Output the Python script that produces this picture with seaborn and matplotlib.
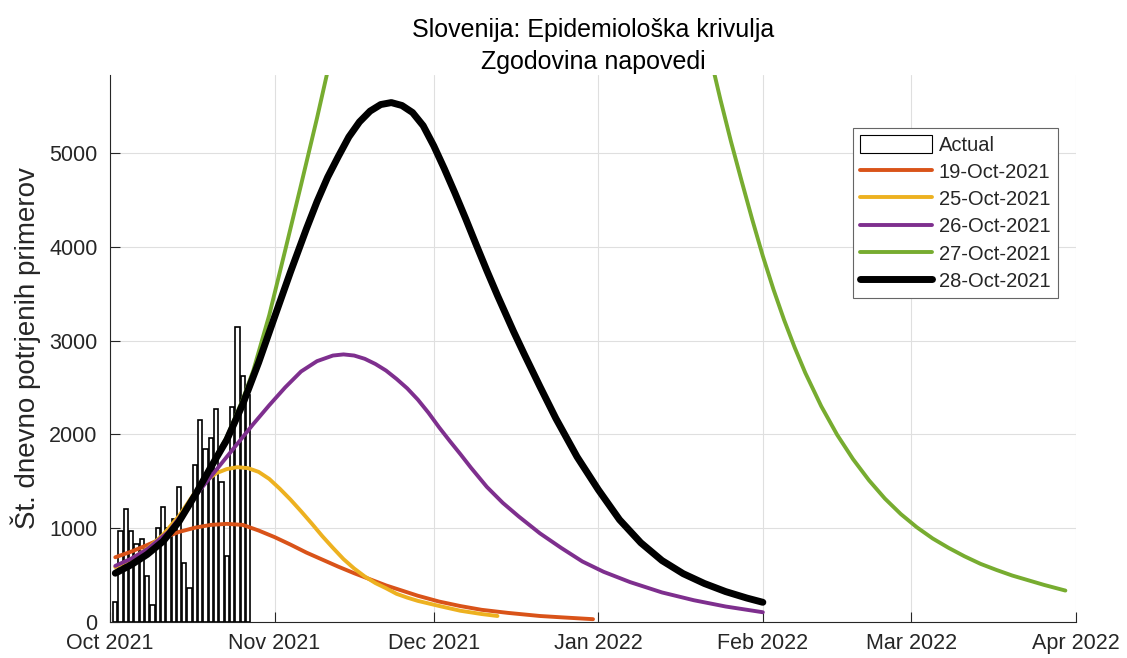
import pandas as pd
import matplotlib
matplotlib.use("Agg")
import matplotlib.pyplot as plt
import matplotlib.dates as mdates
from matplotlib.patches import Patch
from matplotlib.lines import Line2D
import seaborn as sns

start = pd.Timestamp("2021-10-01")

# daily confirmed cases (bars), 2 Oct - 27 Oct 2021
actual_start = "2021-10-02"
actual_vals = [217, 974, 1201, 967, 835, 882, 490, 181, 999, 1225, 1000, 1100, 1443,
               632, 366, 1670, 2154, 1844, 1965, 2267, 1496, 704, 2289, 3141, 2622, 2420]

# forecast curves: day = days after 1 Oct 2021
f19_day = [1, 4, 7, 10, 13, 16, 19, 22, 25, 28, 31, 34, 37, 40, 43, 46, 49, 52, 55, 58,
           62, 66, 70, 75, 81, 85, 91]
f19_vals = [690, 750, 820, 895, 960, 1005, 1035, 1046, 1035, 975, 905, 825, 740, 665,
            590, 520, 455, 390, 335, 280, 218, 170, 130, 97, 64, 50, 30]

f25_day = [1, 4, 7, 10, 13, 16, 18, 20, 22, 24, 26, 28, 30, 32, 34, 36, 38, 40, 42, 44,
           46, 48, 50, 52, 54, 56, 58, 62, 66, 70, 73]
f25_vals = [585, 670, 780, 930, 1130, 1380, 1500, 1585, 1630, 1650, 1640, 1600, 1525,
            1420, 1305, 1180, 1050, 915, 790, 670, 570, 485, 415, 360, 300, 260, 225,
            171, 120, 85, 64]

f26_day = [1, 4, 7, 11, 14, 17, 20, 24, 27, 30, 33, 36, 39, 42, 44, 46, 48, 50, 52, 54,
           56, 58, 60, 62, 64, 66, 68, 71, 74, 77, 81, 85, 89, 93, 98, 104, 110, 116, 123]
f26_vals = [598, 675, 775, 960, 1180, 1410, 1620, 1900, 2110, 2310, 2500, 2670, 2780,
            2840, 2852, 2840, 2805, 2750, 2680, 2590, 2490, 2370, 2230, 2075, 1930, 1790,
            1645, 1440, 1270, 1125, 945, 790, 645, 535, 425, 315, 232, 165, 104]

# 27-Oct runs off the top of the axes between mid-Nov and late Jan
f27_day = [1, 4, 7, 10, 13, 16, 19, 22, 25, 27, 30, 33, 36, 39, 41,
           113, 115, 117, 119, 121, 123, 125, 127, 129, 131, 134, 137, 140, 143, 146,
           149, 152, 155, 158, 161, 164, 167, 170, 173, 176, 180]
f27_vals = [530, 605, 715, 860, 1075, 1355, 1665, 1970, 2370, 2680, 3270, 3960, 4660,
            5370, 5870,
            6050, 5570, 5120, 4700, 4290, 3900, 3545, 3220, 2925, 2655, 2300, 1995, 1735,
            1510, 1315, 1150, 1010, 890, 790, 700, 620, 555, 495, 445, 395, 335]

f28_day = [1, 4, 7, 10, 13, 16, 19, 22, 25, 28, 31, 34, 37, 39, 41, 43, 45, 47, 49, 51,
           53, 55, 57, 59, 61, 63, 65, 67, 69, 71, 73, 76, 78, 81, 84, 88, 92, 96, 100,
           104, 108, 112, 116, 120, 123]
f28_vals = [520, 610, 720, 860, 1070, 1350, 1650, 1940, 2320, 2765, 3250, 3730, 4190,
            4480, 4740, 4960, 5170, 5330, 5445, 5515, 5536, 5505, 5430, 5290, 5075, 4830,
            4570, 4300, 4020, 3745, 3480, 3100, 2860, 2510, 2170, 1760, 1410, 1090, 845,
            655, 515, 410, 324, 255, 210]

labels = ["19-Oct-2021", "25-Oct-2021", "26-Oct-2021", "27-Oct-2021", "28-Oct-2021"]
colors = ["#D95319", "#EDB120", "#7E2F8E", "#77AC30", "#000000"]
widths = [2.8, 2.8, 2.8, 2.8, 5.0]
series = [(f19_day, f19_vals), (f25_day, f25_vals), (f26_day, f26_vals),
          (f27_day, f27_vals), (f28_day, f28_vals)]

sns.set_style("white")
plt.rcParams["font.family"] = ["Liberation Sans", "DejaVu Sans"]
txt = "#262626"

fig = plt.figure(figsize=(11.27, 6.58), dpi=100)
ax = fig.add_axes([110 / 1127, 1 - 622 / 658, 966 / 1127, 547 / 658])

bar_dates = pd.date_range(actual_start, periods=len(actual_vals), freq="D")
ax.bar(bar_dates, actual_vals, width=0.8, color="white", edgecolor="black",
       linewidth=1.2, zorder=2)

for (d, v), c, lw in zip(series, colors, widths):
    df = pd.DataFrame({"date": start + pd.to_timedelta(d, unit="D"), "value": v})
    sns.lineplot(data=df, x="date", y="value", ax=ax, color=c, linewidth=lw,
                 zorder=3, solid_joinstyle="round")

ax.set_xlim(start, pd.Timestamp("2022-04-01"))
ax.set_ylim(0, 5830)
ax.set_yticks([0, 1000, 2000, 3000, 4000, 5000])
ax.xaxis.set_major_locator(mdates.MonthLocator())
ax.xaxis.set_major_formatter(mdates.DateFormatter("%b %Y"))

ax.grid(True, color="#dfdfdf", linewidth=0.8)
ax.set_axisbelow(True)
for s in ["top", "right"]:
    ax.spines[s].set_visible(False)
for s in ["left", "bottom"]:
    ax.spines[s].set_color(txt)
    ax.spines[s].set_linewidth(0.8)
ax.tick_params(bottom=True, left=True, direction="in", length=7, width=0.8,
               color=txt, labelsize=15.5, labelcolor=txt)
ax.tick_params(axis="x", pad=8)
ax.tick_params(axis="y", pad=9)

ax.set_xlabel("")
ax.set_ylabel("Št. dnevno potrjenih primerov", fontsize=20, color=txt, labelpad=6)
ax.set_title("Slovenija: Epidemiološka krivulja\nZgodovina napovedi", fontsize=18,
             color="black", linespacing=1.45, pad=4)

handles = [Patch(facecolor="white", edgecolor="black", linewidth=0.8, label="Actual")]
for lab, c, lw in zip(labels, colors, widths):
    handles.append(Line2D([], [], color=c, linewidth=lw, label=lab))
leg = ax.legend(handles=handles, loc="upper right", bbox_to_anchor=(0.981, 0.903),
                fontsize=14.5, frameon=True, fancybox=False, edgecolor="#666666",
                framealpha=1, handlelength=3.55, handleheight=1.0, handletextpad=0.35,
                labelspacing=0.36, borderpad=0.35, borderaxespad=0)
leg.get_frame().set_linewidth(0.8)

fig.savefig("out.png", dpi=100)
